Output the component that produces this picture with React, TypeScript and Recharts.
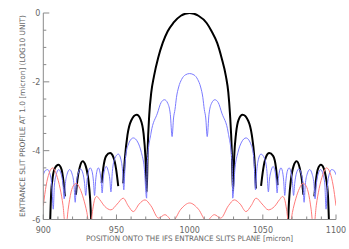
import { LineChart, Line, XAxis, YAxis, Label } from "recharts";

// tick positions and labels
const xTicks = [900, 910, 920, 930, 940, 950, 960, 970, 980, 990, 1000, 1010, 1020, 1030, 1040, 1050, 1060, 1070, 1080, 1090, 1100];
const xMajor = [900, 950, 1000, 1050, 1100];
const yTicks = [0, -0.5, -1, -1.5, -2, -2.5, -3, -3.5, -4, -4.5, -5, -5.5, -6];
const yMajor = [0, -2, -4, -6];
const yMajorLabels = ["0", "-2", "-4", "-6"];

// black: circular spaxel profile (null = gap where the log goes to -inf)
const blackProfile: [number, number | null][] = [
  [904.4, -6.5], [905.3, -5.3], [906.5, -4.75], [908, -4.5], [910.3, -4.41], [912.5, -4.55], [913.8, -4.9], [914.8, -5.33], [918, null],
  [922.3, -5.28], [923.3, -4.85], [924.8, -4.5], [926.9, -4.31], [929, -4.45], [930.8, -4.85], [932, -5.4], [933, -6.3], [936, null],
  [939.9, -4.94], [941, -4.5], [943, -4.15], [945.6, -4.07], [948, -4.2], [949.8, -4.55], [951.2, -5.03], [953, null],
  [954.6, -4.95], [955.8, -4.2], [957.5, -3.55], [960, -3.13], [963.8, -2.96], [966.5, -3.1], [968.5, -3.5], [969.8, -4.2], [970.7, -5.2],
  [971.3, -4.0], [972.4, -2.96], [973.8, -2.3], [975.6, -1.84], [978.5, -1.3], [981.6, -0.87], [985, -0.53], [988.8, -0.29], [994, -0.08],
  [1000, 0], [1006, -0.08], [1011.6, -0.29], [1015, -0.53], [1018.8, -0.87], [1021.8, -1.3], [1024.8, -1.84], [1026.4, -2.3], [1027.6, -2.96],
  [1028.8, -4.0], [1029.6, -5.2], [1030.4, -4.2], [1031.7, -3.5], [1033.5, -3.1], [1036.2, -2.96], [1040, -3.13], [1042.5, -3.55], [1044.2, -4.2],
  [1045.3, -5.1], [1047, null],
  [1048.8, -5.02], [1050.2, -4.55], [1052, -4.2], [1054.4, -4.07], [1057, -4.15], [1059, -4.5], [1060.1, -5.0], [1063, null],
  [1067, -6.3], [1068, -5.4], [1069.2, -4.85], [1071, -4.45], [1073.1, -4.31], [1075.2, -4.5], [1076.7, -4.85], [1077.7, -5.28], [1081, null],
  [1085.2, -5.33], [1086.2, -4.9], [1087.5, -4.55], [1089.7, -4.41], [1091.5, -4.5], [1093, -4.75], [1094.5, -5.3], [1095.5, -6.5],
];

// blue: profile inside the hexagonal lattice
const blueProfile: [number, number][] = [
  [900, -4.7], [901.5, -4.57], [903, -4.55], [904.6, -4.68], [905.9, -5.05], [906.8, -5.7],
  [907.6, -5.0], [908.8, -4.7], [910.5, -4.55], [912.2, -4.68], [913.5, -5.0], [914.3, -5.4],
  [915.1, -4.95], [916.3, -4.68], [918, -4.55], [919.7, -4.68], [921, -5.0], [921.8, -5.5],
  [922.6, -4.95], [923.8, -4.66], [925.4, -4.53], [927, -4.65], [928.2, -4.95], [929, -5.3],
  [929.8, -4.9], [930.8, -4.62], [932, -4.5], [933.3, -4.6], [934.3, -4.9], [935, -5.3],
  [935.8, -4.85], [936.6, -4.6], [937.6, -4.5], [938.7, -4.62], [939.6, -4.9], [940.2, -5.23],
  [941, -4.8], [941.9, -4.55], [943, -4.46], [944.3, -4.58], [945.5, -4.85], [946.2, -5.2],
  [947.2, -4.6], [948.8, -4.23], [951.3, -4.1], [953, -4.25], [954.2, -4.6], [955, -5.14],
  [956, -4.3], [957.8, -3.85], [961.5, -3.63], [964.5, -3.75], [967, -4.05], [969, -4.5], [970.6, -5.38],
  [971, -4.36], [973.6, -3.49], [978, -2.91], [980.5, -2.6], [982.8, -2.52], [985, -2.62], [986.8, -2.95], [988, -3.59],
  [989, -3.05], [990, -2.8], [991, -2.45], [992.5, -2.15], [994.5, -1.93], [997, -1.8], [1000, -1.76], [1003, -1.8],
  [1005.5, -1.93], [1007.5, -2.15], [1009, -2.45], [1010, -2.8], [1011, -3.05], [1012, -3.59],
  [1013.2, -2.95], [1015, -2.62], [1017.2, -2.52], [1019.5, -2.6], [1022, -2.91], [1026.4, -3.49], [1029, -4.36], [1029.4, -5.38],
  [1031, -4.5], [1033, -4.05], [1035.5, -3.75], [1038.5, -3.63], [1042.2, -3.85], [1044, -4.3], [1045, -5.14],
  [1045.8, -4.6], [1047, -4.25], [1048.7, -4.1], [1051.2, -4.23], [1052.8, -4.6], [1053.8, -5.2],
  [1054.5, -4.85], [1055.7, -4.58], [1057, -4.46], [1058.1, -4.55], [1059, -4.8], [1059.8, -5.23],
  [1060.4, -4.9], [1061.3, -4.62], [1062.4, -4.5], [1063.4, -4.6], [1064.2, -4.85], [1065, -5.3],
  [1065.7, -4.9], [1066.7, -4.6], [1068, -4.5], [1069.2, -4.62], [1070.2, -4.9], [1071, -5.3],
  [1071.8, -4.95], [1073, -4.65], [1074.6, -4.53], [1076.2, -4.66], [1077.4, -4.95], [1078.2, -5.5],
  [1079, -5.0], [1080.3, -4.68], [1082, -4.55], [1083.7, -4.68], [1084.9, -4.95], [1085.7, -5.4],
  [1086.5, -5.0], [1087.8, -4.68], [1089.5, -4.55], [1091.2, -4.7], [1092.4, -5.0], [1093.2, -5.7],
  [1094.1, -5.05], [1095.4, -4.68], [1097, -4.55], [1098.5, -4.57], [1100, -4.7],
];

// red: residual crosstalk level
const redProfile: [number, number][] = [
  [900, -5.6], [902, -5.0], [904, -4.65], [906.5, -4.5], [909, -4.7], [911.5, -5.1], [913.5, -5.6], [915.3, -6.3],
  [917, -5.7], [919, -5.2], [920.8, -5.0], [922.6, -4.95], [925, -5.1], [927.5, -5.4], [929.8, -5.8], [931.8, -6.3],
  [933.8, -5.7], [935.2, -5.4], [936.5, -5.33], [938.5, -5.42], [942, -5.62], [946.2, -5.72], [950.5, -5.55], [954.6, -5.38],
  [958, -5.6], [961.5, -5.77], [965.5, -5.55], [969.5, -5.43], [973.5, -5.6], [978.8, -5.96], [983.1, -5.86], [988.5, -6.04],
  [994, -5.7], [1000, -5.52], [1006, -5.7], [1011.5, -6.04], [1016.9, -5.86], [1021.2, -5.96], [1026.5, -5.6], [1030.5, -5.43],
  [1034.5, -5.55], [1038.5, -5.77], [1042, -5.6], [1045.4, -5.38], [1049.5, -5.55], [1053.8, -5.72], [1058, -5.62], [1061.5, -5.42],
  [1063.5, -5.33], [1064.8, -5.4], [1066.2, -5.7], [1068.2, -6.3], [1070.2, -5.8], [1072.5, -5.4], [1075, -5.1], [1077.4, -4.95],
  [1079.2, -5.0], [1081, -5.2], [1083, -5.7], [1084.7, -6.3], [1086.5, -5.6], [1088.5, -5.1], [1091, -4.7], [1093.5, -4.5],
  [1096, -4.65], [1098, -5.0], [1100, -5.6],
];

const toPoints = (arr: [number, number | null][]) => arr.map(([x, y]) => ({ x, y }));

const AXIS = "#8a8a8a";
const TEXT = "#666";
const FONT = "'DejaVu Sans', sans-serif";

function LeftTick({ x, y, payload }: any) {
  const i = yMajor.indexOf(payload.value);
  const len = i >= 0 ? 6 : 3;
  return (
    <g>
      <line x1={x} y1={y} x2={x + len} y2={y} stroke={AXIS} />
      {i >= 0 && (
        <text x={x - 3} y={y} dy={3} textAnchor="end" fontSize={8} fill={TEXT} fontFamily={FONT}>
          {yMajorLabels[i]}
        </text>
      )}
    </g>
  );
}

function RightTick({ x, y, payload }: any) {
  const len = yMajor.includes(payload.value) ? 6 : 3;
  return <line x1={x} y1={y} x2={x - len} y2={y} stroke={AXIS} />;
}

function BottomTick({ x, y, payload }: any) {
  const major = xMajor.includes(payload.value);
  return (
    <g>
      <line x1={x} y1={y} x2={x} y2={y - (major ? 5 : 3)} stroke={AXIS} />
      {major && (
        <text x={x} y={y + 13} textAnchor="middle" fontSize={8} fill={TEXT} fontFamily={FONT}>
          {payload.value}
        </text>
      )}
    </g>
  );
}

function TopTick({ x, y, payload }: any) {
  const major = xMajor.includes(payload.value);
  return <line x1={x} y1={y} x2={x} y2={y + (major ? 5 : 3)} stroke={AXIS} />;
}

export default function App() {
  return (
    <div style={{ position: "absolute", left: 0, top: 0, width: 349, height: 249, background: "#fff" }}>
      <LineChart width={349} height={249} margin={{ top: 13, right: 13, bottom: 0, left: 0 }}>
        <XAxis
          xAxisId="bottom"
          dataKey="x"
          type="number"
          domain={[900, 1100]}
          ticks={xTicks}
          allowDataOverflow
          height={29.5}
          tickSize={0}
          tickMargin={0}
          tickLine={false}
          axisLine={{ stroke: AXIS }}
          tick={<BottomTick />}
          interval={0}
        >
          <Label
            content={() => (
              <text x={189.5} y={241} textAnchor="middle" fontSize={7.5} fill={TEXT} fontFamily={FONT} textLength={207} lengthAdjust="spacingAndGlyphs">
                POSITION ONTO THE IFS ENTRANCE SLITS PLANE [micron]
              </text>
            )}
          />
        </XAxis>
        <XAxis
          xAxisId="top"
          orientation="top"
          dataKey="x"
          type="number"
          domain={[900, 1100]}
          ticks={xTicks}
          height={0}
          tickSize={0}
          tickMargin={0}
          tickLine={false}
          axisLine={{ stroke: AXIS }}
          tick={<TopTick />}
          interval={0}
        >
          <Label
            content={() => (
              <text x={189.5} y={9.5} textAnchor="middle" fontSize={8} fill={TEXT} fontFamily={FONT} textLength={265} lengthAdjust="spacingAndGlyphs">
                CIRCULAR BIGRE SPAXEL WITHIN A HEXAGONAL IFU LATTICE
              </text>
            )}
          />
        </XAxis>
        <YAxis
          yAxisId="left"
          type="number"
          domain={[-6, 0]}
          ticks={yTicks}
          allowDataOverflow
          width={43.3}
          tickSize={0}
          tickMargin={0}
          tickLine={false}
          axisLine={{ stroke: AXIS }}
          tick={<LeftTick />}
          interval={0}
        >
          <Label
            content={() => (
              <text
                x={24.5}
                y={116}
                transform="rotate(-90 24.5 116)"
                textAnchor="middle"
                fontSize={7.5}
                fill={TEXT}
                fontFamily={FONT}
                textLength={202}
                lengthAdjust="spacingAndGlyphs"
              >
                ENTRANCE SLIT PROFILE AT 1.0 [micron] (LOG10 UNIT)
              </text>
            )}
          />
        </YAxis>
        <YAxis
          yAxisId="right"
          orientation="right"
          type="number"
          domain={[-6, 0]}
          ticks={yTicks}
          width={0}
          tickSize={0}
          tickMargin={0}
          tickLine={false}
          axisLine={{ stroke: AXIS }}
          tick={<RightTick />}
          interval={0}
        />
        <Line
          xAxisId="bottom"
          yAxisId="left"
          data={toPoints(blackProfile)}
          dataKey="y"
          type="monotone"
          stroke="#000"
          strokeWidth={2}
          dot={false}
          connectNulls={false}
          isAnimationActive={false}
        />
        <Line
          xAxisId="bottom"
          yAxisId="left"
          data={toPoints(blueProfile)}
          dataKey="y"
          type="monotone"
          stroke="#7b7bff"
          strokeWidth={1}
          dot={false}
          isAnimationActive={false}
        />
        <Line
          xAxisId="bottom"
          yAxisId="left"
          data={toPoints(redProfile)}
          dataKey="y"
          type="monotone"
          stroke="#ff7b7b"
          strokeWidth={1}
          dot={false}
          isAnimationActive={false}
        />
      </LineChart>
    </div>
  );
}
